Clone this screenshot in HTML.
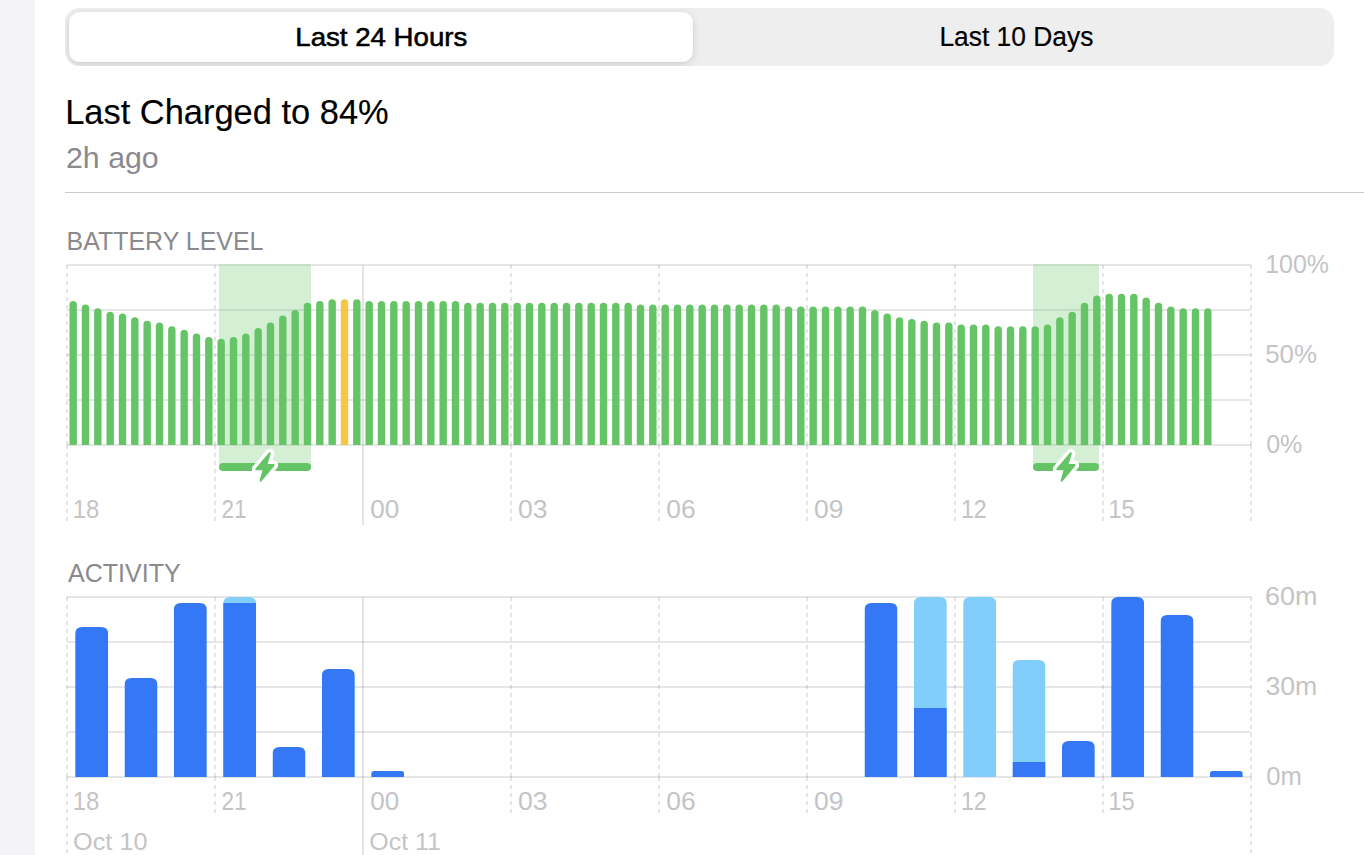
<!DOCTYPE html>
<html><head><meta charset="utf-8">
<style>
html,body{margin:0;padding:0;width:1364px;height:855px;overflow:hidden;background:#fff;}
svg{display:block;font-family:"Liberation Sans", sans-serif;}
</style></head>
<body>
<svg width="1364" height="855" viewBox="0 0 1364 855">
<defs>
<filter id="sh" x="-5%" y="-30%" width="110%" height="160%">
<feDropShadow dx="0" dy="2" stdDeviation="3.5" flood-color="#00001a" flood-opacity="0.15"/>
</filter>
</defs>
<rect x="0" y="0" width="1364" height="855" fill="#fff"/>
<rect x="0" y="0" width="35" height="855" fill="#F2F2F7"/>
<!-- segmented control -->
<rect x="65" y="8" width="1269" height="58" rx="14.5" fill="#EEEEEF"/>
<clipPath id="segclip"><rect x="65" y="8" width="1269" height="58" rx="14.5"/></clipPath>
<g clip-path="url(#segclip)"><rect x="69" y="12" width="624" height="50" rx="11" fill="#fff" stroke="rgba(0,0,0,0.04)" stroke-width="0.5" filter="url(#sh)"/></g>
<text x="295.3" y="46.1" font-size="26.3" fill="#000" stroke="#000" stroke-width="0.55" textLength="172" lengthAdjust="spacingAndGlyphs">Last 24 Hours</text>
<text x="939.4" y="46.1" font-size="27" fill="#000" stroke="#000" stroke-width="0.2" textLength="154" lengthAdjust="spacingAndGlyphs">Last 10 Days</text>
<text x="65.2" y="123.7" font-size="34.45" fill="#000" stroke="#000" stroke-width="0.15" textLength="323.5" lengthAdjust="spacingAndGlyphs">Last Charged to 84%</text>
<text x="66" y="168.0" font-size="29.65" fill="#8A8A8E" textLength="92.7" lengthAdjust="spacingAndGlyphs">2h ago</text>
<rect x="65" y="192" width="1299" height="1" fill="#C8C8CC"/>
<text x="66.5" y="250.2" font-size="26.4" fill="#8A8A8E" textLength="197" lengthAdjust="spacingAndGlyphs">BATTERY LEVEL</text>
<text x="68" y="582.1" font-size="26.3" fill="#8A8A8E" textLength="112.75" lengthAdjust="spacingAndGlyphs">ACTIVITY</text>
<line x1="67.0" y1="265.0" x2="1251" y2="265.0" stroke="rgba(0,0,20,0.135)" stroke-width="1.5"/>
<line x1="67.0" y1="310.0" x2="1251" y2="310.0" stroke="rgba(0,0,20,0.135)" stroke-width="1.5"/>
<line x1="67.0" y1="355.0" x2="1251" y2="355.0" stroke="rgba(0,0,20,0.135)" stroke-width="1.5"/>
<line x1="67.0" y1="400.0" x2="1251" y2="400.0" stroke="rgba(0,0,20,0.135)" stroke-width="1.5"/>
<line x1="67.0" y1="445.0" x2="1251" y2="445.0" stroke="rgba(0,0,20,0.135)" stroke-width="1.5"/>
<line x1="67.0" y1="265.0" x2="67.0" y2="445.0" stroke="rgba(0,0,20,0.135)" stroke-width="1.6" stroke-dasharray="4 4"/>
<line x1="67.0" y1="445.0" x2="67.0" y2="521" stroke="rgba(0,0,20,0.135)" stroke-width="1.6" stroke-dasharray="4 4"/>
<line x1="215.0" y1="265.0" x2="215.0" y2="445.0" stroke="rgba(0,0,20,0.135)" stroke-width="1.6" stroke-dasharray="4 4"/>
<line x1="215.0" y1="445.0" x2="215.0" y2="521" stroke="rgba(0,0,20,0.135)" stroke-width="1.6" stroke-dasharray="4 4"/>
<line x1="363.0" y1="265.0" x2="363.0" y2="525" stroke="rgba(0,0,20,0.135)" stroke-width="1.6"/>
<line x1="511.0" y1="265.0" x2="511.0" y2="445.0" stroke="rgba(0,0,20,0.135)" stroke-width="1.6" stroke-dasharray="4 4"/>
<line x1="511.0" y1="445.0" x2="511.0" y2="521" stroke="rgba(0,0,20,0.135)" stroke-width="1.6" stroke-dasharray="4 4"/>
<line x1="659.0" y1="265.0" x2="659.0" y2="445.0" stroke="rgba(0,0,20,0.135)" stroke-width="1.6" stroke-dasharray="4 4"/>
<line x1="659.0" y1="445.0" x2="659.0" y2="521" stroke="rgba(0,0,20,0.135)" stroke-width="1.6" stroke-dasharray="4 4"/>
<line x1="807.0" y1="265.0" x2="807.0" y2="445.0" stroke="rgba(0,0,20,0.135)" stroke-width="1.6" stroke-dasharray="4 4"/>
<line x1="807.0" y1="445.0" x2="807.0" y2="521" stroke="rgba(0,0,20,0.135)" stroke-width="1.6" stroke-dasharray="4 4"/>
<line x1="955.0" y1="265.0" x2="955.0" y2="445.0" stroke="rgba(0,0,20,0.135)" stroke-width="1.6" stroke-dasharray="4 4"/>
<line x1="955.0" y1="445.0" x2="955.0" y2="521" stroke="rgba(0,0,20,0.135)" stroke-width="1.6" stroke-dasharray="4 4"/>
<line x1="1103.0" y1="265.0" x2="1103.0" y2="445.0" stroke="rgba(0,0,20,0.135)" stroke-width="1.6" stroke-dasharray="4 4"/>
<line x1="1103.0" y1="445.0" x2="1103.0" y2="521" stroke="rgba(0,0,20,0.135)" stroke-width="1.6" stroke-dasharray="4 4"/>
<line x1="1251.0" y1="265.0" x2="1251.0" y2="445.0" stroke="rgba(0,0,20,0.135)" stroke-width="1.6" stroke-dasharray="4 4"/>
<line x1="1251.0" y1="445.0" x2="1251.0" y2="521" stroke="rgba(0,0,20,0.135)" stroke-width="1.6" stroke-dasharray="4 4"/>
<rect x="219" y="264.25" width="92" height="202.75" fill="rgb(101,196,102)" fill-opacity="0.28"/>
<rect x="1033" y="264.25" width="66" height="202.75" fill="rgb(101,196,102)" fill-opacity="0.28"/>
<path d="M69.47 445.0 V304.70 A3.7 3.7 0 0 1 76.87 304.70 V445.0 Z" fill="#65C466"/>
<path d="M81.80 445.0 V308.30 A3.7 3.7 0 0 1 89.20 308.30 V445.0 Z" fill="#65C466"/>
<path d="M94.13 445.0 V311.90 A3.7 3.7 0 0 1 101.53 311.90 V445.0 Z" fill="#65C466"/>
<path d="M106.47 445.0 V315.50 A3.7 3.7 0 0 1 113.87 315.50 V445.0 Z" fill="#65C466"/>
<path d="M118.80 445.0 V317.30 A3.7 3.7 0 0 1 126.20 317.30 V445.0 Z" fill="#65C466"/>
<path d="M131.13 445.0 V320.90 A3.7 3.7 0 0 1 138.53 320.90 V445.0 Z" fill="#65C466"/>
<path d="M143.47 445.0 V324.50 A3.7 3.7 0 0 1 150.87 324.50 V445.0 Z" fill="#65C466"/>
<path d="M155.80 445.0 V326.30 A3.7 3.7 0 0 1 163.20 326.30 V445.0 Z" fill="#65C466"/>
<path d="M168.13 445.0 V329.90 A3.7 3.7 0 0 1 175.53 329.90 V445.0 Z" fill="#65C466"/>
<path d="M180.47 445.0 V333.50 A3.7 3.7 0 0 1 187.87 333.50 V445.0 Z" fill="#65C466"/>
<path d="M192.80 445.0 V337.10 A3.7 3.7 0 0 1 200.20 337.10 V445.0 Z" fill="#65C466"/>
<path d="M205.13 445.0 V340.70 A3.7 3.7 0 0 1 212.53 340.70 V445.0 Z" fill="#65C466"/>
<path d="M217.47 445.0 V342.50 A3.7 3.7 0 0 1 224.87 342.50 V445.0 Z" fill="#65C466"/>
<path d="M229.80 445.0 V340.70 A3.7 3.7 0 0 1 237.20 340.70 V445.0 Z" fill="#65C466"/>
<path d="M242.13 445.0 V337.10 A3.7 3.7 0 0 1 249.53 337.10 V445.0 Z" fill="#65C466"/>
<path d="M254.47 445.0 V331.70 A3.7 3.7 0 0 1 261.87 331.70 V445.0 Z" fill="#65C466"/>
<path d="M266.80 445.0 V326.30 A3.7 3.7 0 0 1 274.20 326.30 V445.0 Z" fill="#65C466"/>
<path d="M279.13 445.0 V319.10 A3.7 3.7 0 0 1 286.53 319.10 V445.0 Z" fill="#65C466"/>
<path d="M291.47 445.0 V313.70 A3.7 3.7 0 0 1 298.87 313.70 V445.0 Z" fill="#65C466"/>
<path d="M303.80 445.0 V306.50 A3.7 3.7 0 0 1 311.20 306.50 V445.0 Z" fill="#65C466"/>
<path d="M316.13 445.0 V304.70 A3.7 3.7 0 0 1 323.53 304.70 V445.0 Z" fill="#65C466"/>
<path d="M328.47 445.0 V302.90 A3.7 3.7 0 0 1 335.87 302.90 V445.0 Z" fill="#65C466"/>
<path d="M340.80 445.0 V302.90 A3.7 3.7 0 0 1 348.20 302.90 V445.0 Z" fill="#F5C843"/>
<path d="M353.13 445.0 V302.90 A3.7 3.7 0 0 1 360.53 302.90 V445.0 Z" fill="#65C466"/>
<path d="M365.47 445.0 V304.70 A3.7 3.7 0 0 1 372.87 304.70 V445.0 Z" fill="#65C466"/>
<path d="M377.80 445.0 V304.70 A3.7 3.7 0 0 1 385.20 304.70 V445.0 Z" fill="#65C466"/>
<path d="M390.13 445.0 V304.70 A3.7 3.7 0 0 1 397.53 304.70 V445.0 Z" fill="#65C466"/>
<path d="M402.47 445.0 V304.70 A3.7 3.7 0 0 1 409.87 304.70 V445.0 Z" fill="#65C466"/>
<path d="M414.80 445.0 V304.70 A3.7 3.7 0 0 1 422.20 304.70 V445.0 Z" fill="#65C466"/>
<path d="M427.13 445.0 V304.70 A3.7 3.7 0 0 1 434.53 304.70 V445.0 Z" fill="#65C466"/>
<path d="M439.47 445.0 V304.70 A3.7 3.7 0 0 1 446.87 304.70 V445.0 Z" fill="#65C466"/>
<path d="M451.80 445.0 V304.70 A3.7 3.7 0 0 1 459.20 304.70 V445.0 Z" fill="#65C466"/>
<path d="M464.13 445.0 V306.50 A3.7 3.7 0 0 1 471.53 306.50 V445.0 Z" fill="#65C466"/>
<path d="M476.47 445.0 V306.50 A3.7 3.7 0 0 1 483.87 306.50 V445.0 Z" fill="#65C466"/>
<path d="M488.80 445.0 V306.50 A3.7 3.7 0 0 1 496.20 306.50 V445.0 Z" fill="#65C466"/>
<path d="M501.13 445.0 V306.50 A3.7 3.7 0 0 1 508.53 306.50 V445.0 Z" fill="#65C466"/>
<path d="M513.47 445.0 V306.50 A3.7 3.7 0 0 1 520.87 306.50 V445.0 Z" fill="#65C466"/>
<path d="M525.80 445.0 V306.50 A3.7 3.7 0 0 1 533.20 306.50 V445.0 Z" fill="#65C466"/>
<path d="M538.13 445.0 V306.50 A3.7 3.7 0 0 1 545.53 306.50 V445.0 Z" fill="#65C466"/>
<path d="M550.47 445.0 V306.50 A3.7 3.7 0 0 1 557.87 306.50 V445.0 Z" fill="#65C466"/>
<path d="M562.80 445.0 V306.50 A3.7 3.7 0 0 1 570.20 306.50 V445.0 Z" fill="#65C466"/>
<path d="M575.13 445.0 V306.50 A3.7 3.7 0 0 1 582.53 306.50 V445.0 Z" fill="#65C466"/>
<path d="M587.47 445.0 V306.50 A3.7 3.7 0 0 1 594.87 306.50 V445.0 Z" fill="#65C466"/>
<path d="M599.80 445.0 V306.50 A3.7 3.7 0 0 1 607.20 306.50 V445.0 Z" fill="#65C466"/>
<path d="M612.13 445.0 V306.50 A3.7 3.7 0 0 1 619.53 306.50 V445.0 Z" fill="#65C466"/>
<path d="M624.47 445.0 V306.50 A3.7 3.7 0 0 1 631.87 306.50 V445.0 Z" fill="#65C466"/>
<path d="M636.80 445.0 V308.30 A3.7 3.7 0 0 1 644.20 308.30 V445.0 Z" fill="#65C466"/>
<path d="M649.13 445.0 V308.30 A3.7 3.7 0 0 1 656.53 308.30 V445.0 Z" fill="#65C466"/>
<path d="M661.47 445.0 V308.30 A3.7 3.7 0 0 1 668.87 308.30 V445.0 Z" fill="#65C466"/>
<path d="M673.80 445.0 V308.30 A3.7 3.7 0 0 1 681.20 308.30 V445.0 Z" fill="#65C466"/>
<path d="M686.13 445.0 V308.30 A3.7 3.7 0 0 1 693.53 308.30 V445.0 Z" fill="#65C466"/>
<path d="M698.47 445.0 V308.30 A3.7 3.7 0 0 1 705.87 308.30 V445.0 Z" fill="#65C466"/>
<path d="M710.80 445.0 V308.30 A3.7 3.7 0 0 1 718.20 308.30 V445.0 Z" fill="#65C466"/>
<path d="M723.13 445.0 V308.30 A3.7 3.7 0 0 1 730.53 308.30 V445.0 Z" fill="#65C466"/>
<path d="M735.47 445.0 V308.30 A3.7 3.7 0 0 1 742.87 308.30 V445.0 Z" fill="#65C466"/>
<path d="M747.80 445.0 V308.30 A3.7 3.7 0 0 1 755.20 308.30 V445.0 Z" fill="#65C466"/>
<path d="M760.13 445.0 V308.30 A3.7 3.7 0 0 1 767.53 308.30 V445.0 Z" fill="#65C466"/>
<path d="M772.47 445.0 V308.30 A3.7 3.7 0 0 1 779.87 308.30 V445.0 Z" fill="#65C466"/>
<path d="M784.80 445.0 V310.10 A3.7 3.7 0 0 1 792.20 310.10 V445.0 Z" fill="#65C466"/>
<path d="M797.13 445.0 V310.10 A3.7 3.7 0 0 1 804.53 310.10 V445.0 Z" fill="#65C466"/>
<path d="M809.47 445.0 V310.10 A3.7 3.7 0 0 1 816.87 310.10 V445.0 Z" fill="#65C466"/>
<path d="M821.80 445.0 V310.10 A3.7 3.7 0 0 1 829.20 310.10 V445.0 Z" fill="#65C466"/>
<path d="M834.13 445.0 V310.10 A3.7 3.7 0 0 1 841.53 310.10 V445.0 Z" fill="#65C466"/>
<path d="M846.47 445.0 V310.10 A3.7 3.7 0 0 1 853.87 310.10 V445.0 Z" fill="#65C466"/>
<path d="M858.80 445.0 V310.10 A3.7 3.7 0 0 1 866.20 310.10 V445.0 Z" fill="#65C466"/>
<path d="M871.13 445.0 V313.70 A3.7 3.7 0 0 1 878.53 313.70 V445.0 Z" fill="#65C466"/>
<path d="M883.47 445.0 V317.30 A3.7 3.7 0 0 1 890.87 317.30 V445.0 Z" fill="#65C466"/>
<path d="M895.80 445.0 V320.90 A3.7 3.7 0 0 1 903.20 320.90 V445.0 Z" fill="#65C466"/>
<path d="M908.13 445.0 V322.70 A3.7 3.7 0 0 1 915.53 322.70 V445.0 Z" fill="#65C466"/>
<path d="M920.47 445.0 V324.50 A3.7 3.7 0 0 1 927.87 324.50 V445.0 Z" fill="#65C466"/>
<path d="M932.80 445.0 V326.30 A3.7 3.7 0 0 1 940.20 326.30 V445.0 Z" fill="#65C466"/>
<path d="M945.13 445.0 V326.30 A3.7 3.7 0 0 1 952.53 326.30 V445.0 Z" fill="#65C466"/>
<path d="M957.47 445.0 V328.10 A3.7 3.7 0 0 1 964.87 328.10 V445.0 Z" fill="#65C466"/>
<path d="M969.80 445.0 V328.10 A3.7 3.7 0 0 1 977.20 328.10 V445.0 Z" fill="#65C466"/>
<path d="M982.13 445.0 V328.10 A3.7 3.7 0 0 1 989.53 328.10 V445.0 Z" fill="#65C466"/>
<path d="M994.47 445.0 V329.90 A3.7 3.7 0 0 1 1001.87 329.90 V445.0 Z" fill="#65C466"/>
<path d="M1006.80 445.0 V329.90 A3.7 3.7 0 0 1 1014.20 329.90 V445.0 Z" fill="#65C466"/>
<path d="M1019.13 445.0 V329.90 A3.7 3.7 0 0 1 1026.53 329.90 V445.0 Z" fill="#65C466"/>
<path d="M1031.47 445.0 V329.90 A3.7 3.7 0 0 1 1038.87 329.90 V445.0 Z" fill="#65C466"/>
<path d="M1043.80 445.0 V328.10 A3.7 3.7 0 0 1 1051.20 328.10 V445.0 Z" fill="#65C466"/>
<path d="M1056.13 445.0 V320.90 A3.7 3.7 0 0 1 1063.53 320.90 V445.0 Z" fill="#65C466"/>
<path d="M1068.47 445.0 V315.50 A3.7 3.7 0 0 1 1075.87 315.50 V445.0 Z" fill="#65C466"/>
<path d="M1080.80 445.0 V306.50 A3.7 3.7 0 0 1 1088.20 306.50 V445.0 Z" fill="#65C466"/>
<path d="M1093.13 445.0 V299.30 A3.7 3.7 0 0 1 1100.53 299.30 V445.0 Z" fill="#65C466"/>
<path d="M1105.47 445.0 V297.50 A3.7 3.7 0 0 1 1112.87 297.50 V445.0 Z" fill="#65C466"/>
<path d="M1117.80 445.0 V297.50 A3.7 3.7 0 0 1 1125.20 297.50 V445.0 Z" fill="#65C466"/>
<path d="M1130.13 445.0 V297.50 A3.7 3.7 0 0 1 1137.53 297.50 V445.0 Z" fill="#65C466"/>
<path d="M1142.47 445.0 V301.10 A3.7 3.7 0 0 1 1149.87 301.10 V445.0 Z" fill="#65C466"/>
<path d="M1154.80 445.0 V306.50 A3.7 3.7 0 0 1 1162.20 306.50 V445.0 Z" fill="#65C466"/>
<path d="M1167.13 445.0 V310.10 A3.7 3.7 0 0 1 1174.53 310.10 V445.0 Z" fill="#65C466"/>
<path d="M1179.47 445.0 V311.90 A3.7 3.7 0 0 1 1186.87 311.90 V445.0 Z" fill="#65C466"/>
<path d="M1191.80 445.0 V311.90 A3.7 3.7 0 0 1 1199.20 311.90 V445.0 Z" fill="#65C466"/>
<path d="M1204.13 445.0 V311.90 A3.7 3.7 0 0 1 1211.53 311.90 V445.0 Z" fill="#65C466"/>
<rect x="219" y="463" width="92" height="8" rx="4" fill="#65C466"/>
<path d="M269.7 453.4 L256.4 469.2 L263.9 469.2 L260.7 480.6 L273.6 465.0 L266.2 465.0 Z" fill="#fff" stroke="#fff" stroke-width="9.2" stroke-linejoin="round"/>
<path d="M269.7 453.4 L256.4 469.2 L263.9 469.2 L260.7 480.6 L273.6 465.0 L266.2 465.0 Z" fill="#65C466" stroke="#65C466" stroke-width="2.2" stroke-linejoin="round"/>
<rect x="1033" y="463" width="66" height="8" rx="4" fill="#65C466"/>
<path d="M1070.7 453.4 L1057.4 469.2 L1064.9 469.2 L1061.7 480.6 L1074.6 465.0 L1067.2 465.0 Z" fill="#fff" stroke="#fff" stroke-width="9.2" stroke-linejoin="round"/>
<path d="M1070.7 453.4 L1057.4 469.2 L1064.9 469.2 L1061.7 480.6 L1074.6 465.0 L1067.2 465.0 Z" fill="#65C466" stroke="#65C466" stroke-width="2.2" stroke-linejoin="round"/>
<text x="1265.21" y="273.0" font-size="25.3" fill="#C4C4C6" textLength="63.79" lengthAdjust="spacingAndGlyphs">100%</text>
<text x="1265.18" y="363.2" font-size="25.3" fill="#C4C4C6" textLength="51.75" lengthAdjust="spacingAndGlyphs">50%</text>
<text x="1266.2" y="453.0" font-size="25.3" fill="#C4C4C6" textLength="36.16" lengthAdjust="spacingAndGlyphs">0%</text>
<text x="72.76" y="518.1" font-size="25.5" fill="#C4C4C6" textLength="26.59" lengthAdjust="spacingAndGlyphs">18</text>
<text x="221.42" y="518.1" font-size="25.5" fill="#C4C4C6" textLength="25.01" lengthAdjust="spacingAndGlyphs">21</text>
<text x="370.3" y="518.1" font-size="25.5" fill="#C4C4C6" textLength="28.98" lengthAdjust="spacingAndGlyphs">00</text>
<text x="517.9" y="518.1" font-size="25.5" fill="#C4C4C6" textLength="29.49" lengthAdjust="spacingAndGlyphs">03</text>
<text x="666.3" y="518.1" font-size="25.5" fill="#C4C4C6" textLength="29.39" lengthAdjust="spacingAndGlyphs">06</text>
<text x="814.0" y="518.1" font-size="25.5" fill="#C4C4C6" textLength="29.49" lengthAdjust="spacingAndGlyphs">09</text>
<text x="960.89" y="518.1" font-size="25.5" fill="#C4C4C6" textLength="25.75" lengthAdjust="spacingAndGlyphs">12</text>
<text x="1108.47" y="518.1" font-size="25.5" fill="#C4C4C6" textLength="26.27" lengthAdjust="spacingAndGlyphs">15</text>
<line x1="67.0" y1="597.0" x2="1251" y2="597.0" stroke="rgba(0,0,20,0.135)" stroke-width="1.5"/>
<line x1="67.0" y1="642.0" x2="1251" y2="642.0" stroke="rgba(0,0,20,0.135)" stroke-width="1.5"/>
<line x1="67.0" y1="687.0" x2="1251" y2="687.0" stroke="rgba(0,0,20,0.135)" stroke-width="1.5"/>
<line x1="67.0" y1="732.0" x2="1251" y2="732.0" stroke="rgba(0,0,20,0.135)" stroke-width="1.5"/>
<line x1="67.0" y1="777.0" x2="1251" y2="777.0" stroke="rgba(0,0,20,0.135)" stroke-width="1.5"/>
<line x1="67.0" y1="597.0" x2="67.0" y2="777.0" stroke="rgba(0,0,20,0.135)" stroke-width="1.6" stroke-dasharray="4 4"/>
<line x1="67.0" y1="777.0" x2="67.0" y2="855" stroke="rgba(0,0,20,0.135)" stroke-width="1.6" stroke-dasharray="4 4"/>
<line x1="215.0" y1="597.0" x2="215.0" y2="777.0" stroke="rgba(0,0,20,0.135)" stroke-width="1.6" stroke-dasharray="4 4"/>
<line x1="215.0" y1="777.0" x2="215.0" y2="813" stroke="rgba(0,0,20,0.135)" stroke-width="1.6" stroke-dasharray="4 4"/>
<line x1="363.0" y1="597.0" x2="363.0" y2="855" stroke="rgba(0,0,20,0.135)" stroke-width="1.6"/>
<line x1="511.0" y1="597.0" x2="511.0" y2="777.0" stroke="rgba(0,0,20,0.135)" stroke-width="1.6" stroke-dasharray="4 4"/>
<line x1="511.0" y1="777.0" x2="511.0" y2="813" stroke="rgba(0,0,20,0.135)" stroke-width="1.6" stroke-dasharray="4 4"/>
<line x1="659.0" y1="597.0" x2="659.0" y2="777.0" stroke="rgba(0,0,20,0.135)" stroke-width="1.6" stroke-dasharray="4 4"/>
<line x1="659.0" y1="777.0" x2="659.0" y2="813" stroke="rgba(0,0,20,0.135)" stroke-width="1.6" stroke-dasharray="4 4"/>
<line x1="807.0" y1="597.0" x2="807.0" y2="777.0" stroke="rgba(0,0,20,0.135)" stroke-width="1.6" stroke-dasharray="4 4"/>
<line x1="807.0" y1="777.0" x2="807.0" y2="813" stroke="rgba(0,0,20,0.135)" stroke-width="1.6" stroke-dasharray="4 4"/>
<line x1="955.0" y1="597.0" x2="955.0" y2="777.0" stroke="rgba(0,0,20,0.135)" stroke-width="1.6" stroke-dasharray="4 4"/>
<line x1="955.0" y1="777.0" x2="955.0" y2="813" stroke="rgba(0,0,20,0.135)" stroke-width="1.6" stroke-dasharray="4 4"/>
<line x1="1103.0" y1="597.0" x2="1103.0" y2="777.0" stroke="rgba(0,0,20,0.135)" stroke-width="1.6" stroke-dasharray="4 4"/>
<line x1="1103.0" y1="777.0" x2="1103.0" y2="813" stroke="rgba(0,0,20,0.135)" stroke-width="1.6" stroke-dasharray="4 4"/>
<line x1="1251.0" y1="597.0" x2="1251.0" y2="777.0" stroke="rgba(0,0,20,0.135)" stroke-width="1.6" stroke-dasharray="4 4"/>
<line x1="1251.0" y1="777.0" x2="1251.0" y2="855" stroke="rgba(0,0,20,0.135)" stroke-width="1.6" stroke-dasharray="4 4"/>
<clipPath id="c0"><path d="M75.17 777.0 V634.00 Q75.17 627.00 82.17 627.00 H101.17 Q108.17 627.00 108.17 634.00 V777.0 Z"/></clipPath>
<g clip-path="url(#c0)">
<rect x="75.17" y="627.00" width="33.0" height="150.00" fill="#3478F6"/>
</g>
<clipPath id="c1"><path d="M124.50 777.0 V685.00 Q124.50 678.00 131.50 678.00 H150.50 Q157.50 678.00 157.50 685.00 V777.0 Z"/></clipPath>
<g clip-path="url(#c1)">
<rect x="124.50" y="678.00" width="33.0" height="99.00" fill="#3478F6"/>
</g>
<clipPath id="c2"><path d="M173.83 777.0 V610.00 Q173.83 603.00 180.83 603.00 H199.83 Q206.83 603.00 206.83 610.00 V777.0 Z"/></clipPath>
<g clip-path="url(#c2)">
<rect x="173.83" y="603.00" width="33.0" height="174.00" fill="#3478F6"/>
</g>
<clipPath id="c3"><path d="M223.17 777.0 V604.00 Q223.17 597.00 230.17 597.00 H249.17 Q256.17 597.00 256.17 604.00 V777.0 Z"/></clipPath>
<g clip-path="url(#c3)">
<rect x="223.17" y="597.00" width="33.0" height="180.00" fill="#81CEFA"/>
<rect x="223.17" y="603.00" width="33.0" height="174.00" fill="#3478F6"/>
</g>
<clipPath id="c4"><path d="M272.50 777.0 V754.00 Q272.50 747.00 279.50 747.00 H298.50 Q305.50 747.00 305.50 754.00 V777.0 Z"/></clipPath>
<g clip-path="url(#c4)">
<rect x="272.50" y="747.00" width="33.0" height="30.00" fill="#3478F6"/>
</g>
<clipPath id="c5"><path d="M321.83 777.0 V676.00 Q321.83 669.00 328.83 669.00 H347.83 Q354.83 669.00 354.83 676.00 V777.0 Z"/></clipPath>
<g clip-path="url(#c5)">
<rect x="321.83" y="669.00" width="33.0" height="108.00" fill="#3478F6"/>
</g>
<clipPath id="c6"><path d="M371.17 777.0 V774.00 Q371.17 771.00 374.17 771.00 H401.17 Q404.17 771.00 404.17 774.00 V777.0 Z"/></clipPath>
<g clip-path="url(#c6)">
<rect x="371.17" y="771.00" width="33.0" height="6.00" fill="#3478F6"/>
</g>
<clipPath id="c16"><path d="M864.50 777.0 V610.00 Q864.50 603.00 871.50 603.00 H890.50 Q897.50 603.00 897.50 610.00 V777.0 Z"/></clipPath>
<g clip-path="url(#c16)">
<rect x="864.50" y="603.00" width="33.0" height="174.00" fill="#3478F6"/>
</g>
<clipPath id="c17"><path d="M913.83 777.0 V604.00 Q913.83 597.00 920.83 597.00 H939.83 Q946.83 597.00 946.83 604.00 V777.0 Z"/></clipPath>
<g clip-path="url(#c17)">
<rect x="913.83" y="597.00" width="33.0" height="180.00" fill="#81CEFA"/>
<rect x="913.83" y="708.00" width="33.0" height="69.00" fill="#3478F6"/>
</g>
<clipPath id="c18"><path d="M963.17 777.0 V604.00 Q963.17 597.00 970.17 597.00 H989.17 Q996.17 597.00 996.17 604.00 V777.0 Z"/></clipPath>
<g clip-path="url(#c18)">
<rect x="963.17" y="597.00" width="33.0" height="180.00" fill="#81CEFA"/>
</g>
<clipPath id="c19"><path d="M1012.50 777.0 V667.00 Q1012.50 660.00 1019.50 660.00 H1038.50 Q1045.50 660.00 1045.50 667.00 V777.0 Z"/></clipPath>
<g clip-path="url(#c19)">
<rect x="1012.50" y="660.00" width="33.0" height="117.00" fill="#81CEFA"/>
<rect x="1012.50" y="762.00" width="33.0" height="15.00" fill="#3478F6"/>
</g>
<clipPath id="c20"><path d="M1061.83 777.0 V748.00 Q1061.83 741.00 1068.83 741.00 H1087.83 Q1094.83 741.00 1094.83 748.00 V777.0 Z"/></clipPath>
<g clip-path="url(#c20)">
<rect x="1061.83" y="741.00" width="33.0" height="36.00" fill="#3478F6"/>
</g>
<clipPath id="c21"><path d="M1111.17 777.0 V604.00 Q1111.17 597.00 1118.17 597.00 H1137.17 Q1144.17 597.00 1144.17 604.00 V777.0 Z"/></clipPath>
<g clip-path="url(#c21)">
<rect x="1111.17" y="597.00" width="33.0" height="180.00" fill="#3478F6"/>
</g>
<clipPath id="c22"><path d="M1160.50 777.0 V622.00 Q1160.50 615.00 1167.50 615.00 H1186.50 Q1193.50 615.00 1193.50 622.00 V777.0 Z"/></clipPath>
<g clip-path="url(#c22)">
<rect x="1160.50" y="615.00" width="33.0" height="162.00" fill="#3478F6"/>
</g>
<clipPath id="c23"><path d="M1209.83 777.0 V774.00 Q1209.83 771.00 1212.83 771.00 H1239.83 Q1242.83 771.00 1242.83 774.00 V777.0 Z"/></clipPath>
<g clip-path="url(#c23)">
<rect x="1209.83" y="771.00" width="33.0" height="6.00" fill="#3478F6"/>
</g>
<text x="1265.03" y="605.0" font-size="25.3" fill="#C4C4C6" textLength="52.47" lengthAdjust="spacingAndGlyphs">60m</text>
<text x="1265.45" y="695.0" font-size="25.3" fill="#C4C4C6" textLength="51.84" lengthAdjust="spacingAndGlyphs">30m</text>
<text x="1266.3" y="785.0" font-size="25.3" fill="#C4C4C6" textLength="35.67" lengthAdjust="spacingAndGlyphs">0m</text>
<text x="72.76" y="809.8" font-size="25.5" fill="#C4C4C6" textLength="26.59" lengthAdjust="spacingAndGlyphs">18</text>
<text x="221.42" y="809.8" font-size="25.5" fill="#C4C4C6" textLength="25.01" lengthAdjust="spacingAndGlyphs">21</text>
<text x="370.3" y="809.8" font-size="25.5" fill="#C4C4C6" textLength="28.98" lengthAdjust="spacingAndGlyphs">00</text>
<text x="517.9" y="809.8" font-size="25.5" fill="#C4C4C6" textLength="29.49" lengthAdjust="spacingAndGlyphs">03</text>
<text x="666.3" y="809.8" font-size="25.5" fill="#C4C4C6" textLength="29.39" lengthAdjust="spacingAndGlyphs">06</text>
<text x="814.0" y="809.8" font-size="25.5" fill="#C4C4C6" textLength="29.49" lengthAdjust="spacingAndGlyphs">09</text>
<text x="960.89" y="809.8" font-size="25.5" fill="#C4C4C6" textLength="25.75" lengthAdjust="spacingAndGlyphs">12</text>
<text x="1108.47" y="809.8" font-size="25.5" fill="#C4C4C6" textLength="26.27" lengthAdjust="spacingAndGlyphs">15</text>
<text x="73.1" y="849.8" font-size="24.4" fill="#C4C4C6" textLength="74.4" lengthAdjust="spacingAndGlyphs">Oct 10</text>
<text x="369.3" y="849.8" font-size="24.4" fill="#C4C4C6" textLength="71.6" lengthAdjust="spacingAndGlyphs">Oct 11</text>
</svg>
</body></html>
